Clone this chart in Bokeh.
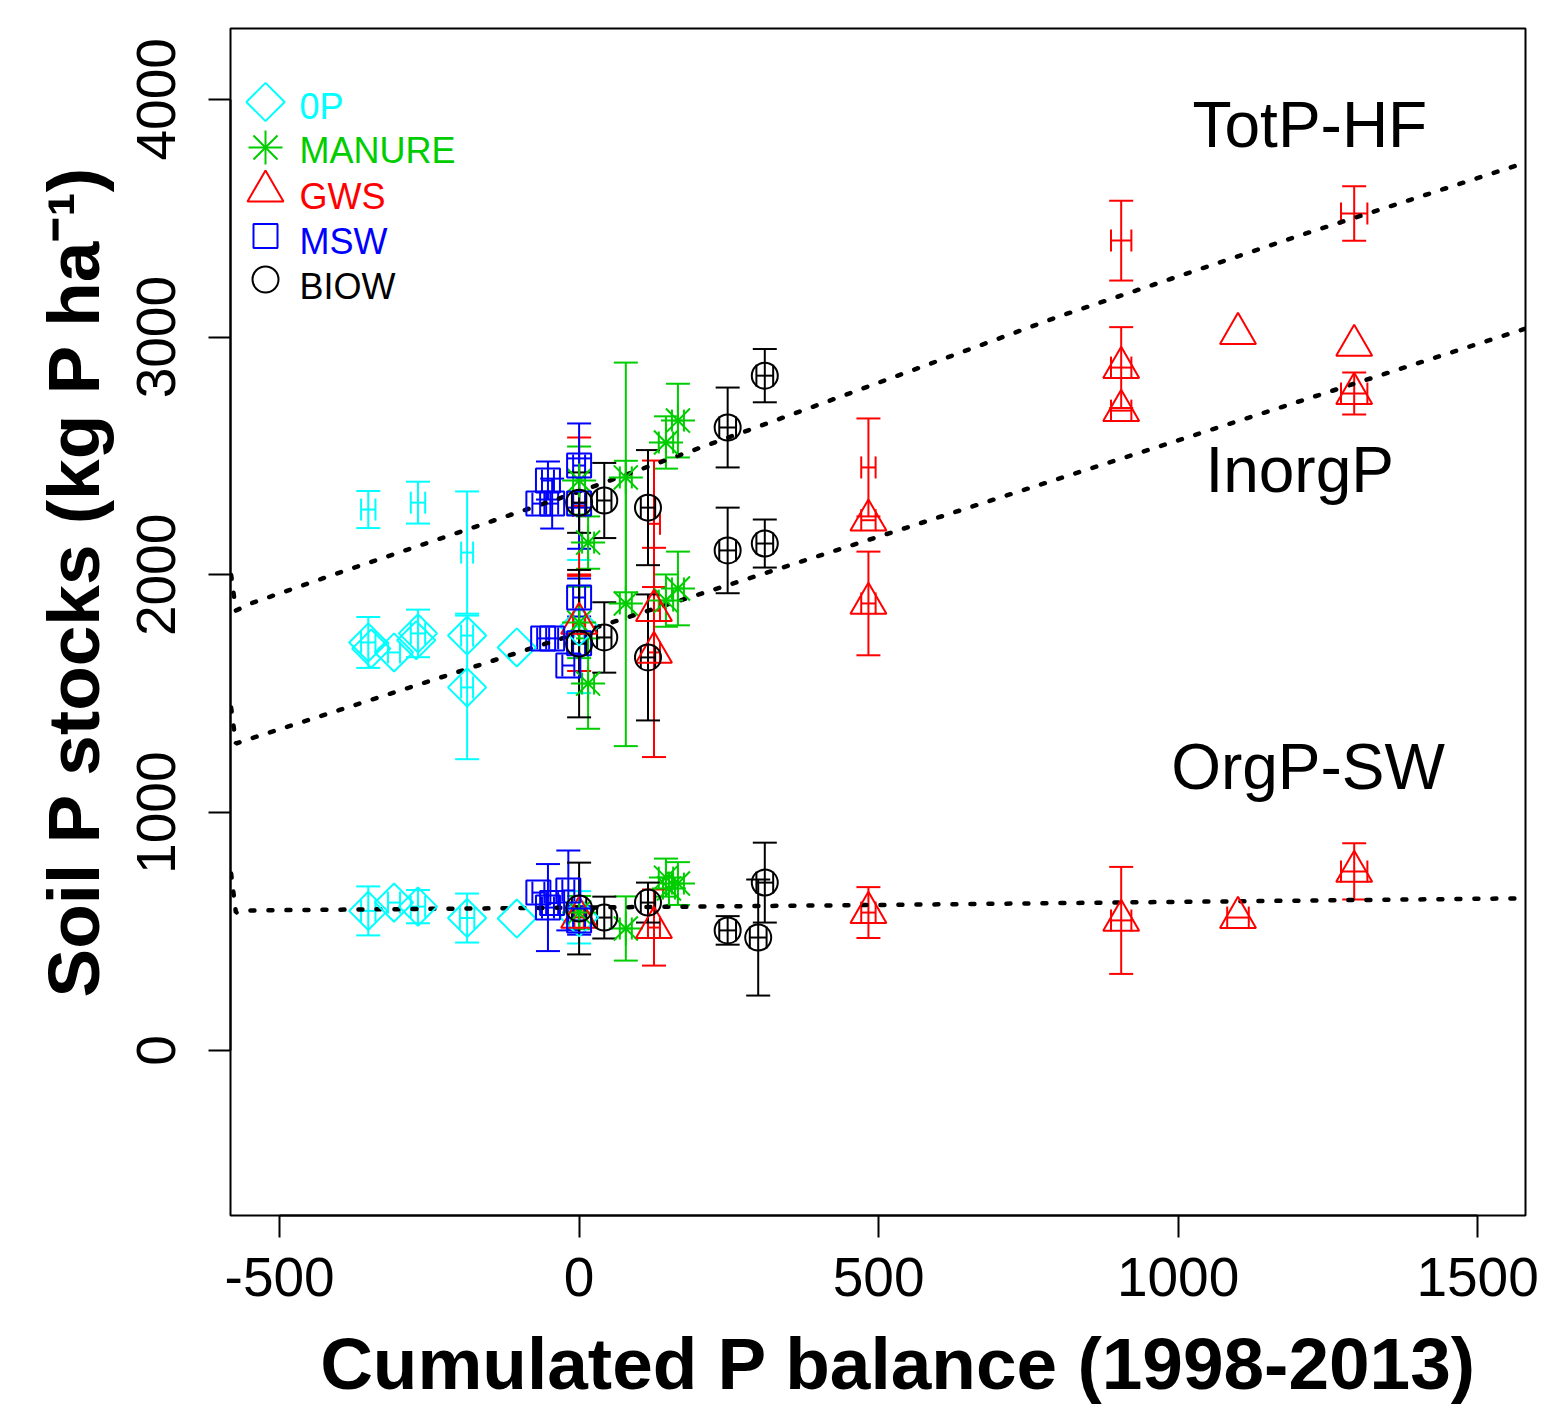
import numpy as np
from bokeh.plotting import figure
from bokeh.models import (ColumnDataSource, Whisker, TeeHead, Range1d, FixedTicker, Label)
from bokeh.embed import file_html
from bokeh.resources import INLINE
from bokeh.core.properties import value

# ---------------- data ----------------
# each treatment: x (cumulated P balance), y (soil P stock), x-error, y-error, marker drawn (1/0)
op_x  = [-352, -269, -187,  -352, -347, -309, -269, -272, -187, -187, -104,    0,  -352, -309, -269, -187, -104,    0]
op_y  = [2275, 2304, 2094,  1716, 1690, 1674, 1754, 1725, 1745, 1527, 1695, 1783,   587,  622,  605,  557,  555,  560]
op_xe = [  12,   12,   10,    12,    0,   10,   12,    0,   10,   10,    0,    8,    12,   10,   12,   12,    0,    8]
op_ye = [  78,   88,  257,   107,    0,    0,  100,    0,    0,  302,    0,  280,   103,    0,   70,  103,    0,  110]
op_mk = [   0,    0,    0,     1,    1,    1,    1,    1,    1,    1,    1,    1,     1,    1,    1,    1,    1,    1]

mn_x  = [   0,   15,   78,  145,  165,     0,   15,   78,  145,  165,     0,   78,  145,  150,  165]
mn_y  = [2397, 2136, 2410, 2557, 2649,  1800, 1543, 1880, 1892, 1943,   580,  513,  727,  681,  702]
mn_xe = [  10,   10,   10,   12,   10,    10,   10,   10,   12,   10,    10,   10,   12,   10,   10]
mn_ye = [ 143,  110,  483,  110,  155,   150,  190,  600,  110,  155,    70,  135,   80,    0,   90]
mn_mk = [   1,    1,    1,    1,    1,     1,    1,    1,    1,    1,     1,    1,    1,    1,    1]

gw_x  = [   0,  125,  483,  905, 1294,     0,  125,  125,  483,  483,  905,  905, 1100, 1294, 1294,     0,  125,  483,  905, 1100, 1294]
gw_y  = [2290, 2215, 2452, 3406, 3520,  1796, 1850, 1674, 2230, 1880, 2872, 2691, 3015, 2965, 2763,   560,  517,  580,  547,  559,  753]
gw_xe = [  10,   10,   12,   17,   22,    10,   10,   10,   12,   12,   17,   17,    0,    0,   22,     8,   10,   12,   17,   18,   22]
gw_ye = [ 288,  266,  206,  168,  115,   200,    0,  440,    0,  218,  170,    0,    0,    0,   88,     0,  160,  107,  225,    0,  118]
gw_mk = [   0,    0,    0,    0,    0,     1,    1,    1,    1,    1,    1,    1,    1,    1,    1,     1,    1,    1,    1,    1,    1]

ms_x  = [ -68,  -52,  -45,    0,    0,   -60,  -45,  -18,    0,    0,   -68,  -52,  -45,  -18,    0]
ms_y  = [2300, 2397, 2300, 2460, 2300,  1733, 1733, 1619, 1713, 1905,   664,  601,  620,  673,  547]
ms_xe = [  10,   10,   10,   10,   10,    10,   10,   10,   10,   10,    10,   10,   10,   10,   10]
ms_ye = [   0,   80,  105,  177,  190,     0,    0,    0,    0,   80,     0,  183,    0,  168,   60]
ms_mk = [   1,    1,    1,    1,    1,     1,    1,    1,    1,    1,     1,    1,    1,    1,    1]

bw_x  = [   0,   42,  115,  248,  310,     0,   42,  115,  248,  310,     0,   42,  115,  248,  299,  310]
bw_y  = [2304, 2313, 2283, 2620, 2838,  1711, 1737, 1653, 2103, 2132,   597,  559,  622,  505,  475,  706]
bw_xe = [  12,   12,   12,   14,   14,    12,   12,   12,   14,   14,    12,   12,   12,   14,   14,   14]
bw_ye = [ 127,  158,  242,  168,  112,   310,  148,  265,  180,  101,   193,   88,   84,   60,  244,  168]
bw_mk = [   1,    1,    1,    1,    1,     1,    1,    1,    1,    1,     1,    1,    1,    1,    1,    1]

# fitted curves
totp_fit_x = [-581, -573, -548, -400,    0,  400,  800, 1200, 1580]
totp_fit_y = [2000, 1850, 1880, 2010, 2350, 2716, 3086, 3425, 3734]
inorg_fit_x = [-581, -573, -548, -400,    0,  400,  800, 1200, 1580]
inorg_fit_y = [1442, 1291, 1312, 1432, 1756, 2080, 2404, 2728, 3036]
org_fit_x = [-581, -573, -548,  500, 1580]
org_fit_y = [ 744,  580,  589,  612,  640]

curve_labels = ["TotP-HF", "InorgP", "OrgP-SW"]
curve_label_x = [1220, 1203, 1217]
curve_label_y = [3893, 2442, 1193]

treat_names = ["0P", "MANURE", "GWS", "MSW", "BIOW"]
treat_colors = ["#00FFFF", "#00CD00", "#FF0000", "#0000FF", "#000000"]

x_ticks = [-500, 0, 500, 1000, 1500]
y_ticks = [0, 1000, 2000, 3000, 4000]

NB = "\u00a0"
x_title = NB * 2 + "Cumulated P balance (1998-2013)"
y_title = NB * 4 + "Soil P stocks (kg P ha\u207b\u00b9)"

# ---------------- figure ----------------
FONT = "Liberation Sans"
p = figure(frame_width=1295, frame_height=1187,
           x_range=Range1d(-582, 1580), y_range=Range1d(-694, 4298),
           output_backend="svg", toolbar_location=None,
           min_border_left=230, min_border_right=23, min_border_top=28, min_border_bottom=188)
p.extra_x_ranges = {"sx": Range1d(0, 1295)}
p.extra_y_ranges = {"sy": Range1d(0, 1187)}
p.grid.visible = False
p.outline_line_color = "black"
p.outline_line_width = 2
p.background_fill_color = "white"
p.border_fill_color = "white"

for ax in (p.xaxis[0], p.yaxis[0]):
    ax.axis_line_color = "black"
    ax.axis_line_width = 2
    ax.major_tick_line_width = 2
    ax.major_tick_out = 22
    ax.major_tick_in = 0
    ax.minor_tick_out = 0
    ax.minor_tick_in = 0
    ax.major_label_text_font = FONT
    ax.major_label_text_font_size = "55px"
    ax.major_label_text_color = "black"
    ax.axis_label_text_font = FONT
    ax.axis_label_text_font_size = "73px"
    ax.axis_label_text_font_style = "bold"
    ax.axis_label_text_color = "black"

p.xaxis.ticker = FixedTicker(ticks=x_ticks)
p.yaxis.ticker = FixedTicker(ticks=y_ticks)
p.xaxis.bounds = (x_ticks[0], x_ticks[-1])
p.yaxis.bounds = (y_ticks[0], y_ticks[-1])
p.xaxis.major_label_overrides = {t: str(t) for t in x_ticks}
p.yaxis.major_label_overrides = {t: str(t) for t in y_ticks}
p.xaxis.major_label_standoff = 20
p.yaxis.major_label_standoff = 33
p.yaxis.major_label_orientation = "vertical"
p.xaxis.axis_label = x_title
p.yaxis.axis_label = y_title
p.xaxis.axis_label_standoff = 24
p.yaxis.axis_label_standoff = 21

# fitted dotted curves
for fx, fy in ((totp_fit_x, totp_fit_y), (inorg_fit_x, inorg_fit_y), (org_fit_x, org_fit_y)):
    p.line(fx, fy, line_color="black", line_width=4.5, line_dash="4 14", line_cap="round")


def draw_marker(xs, ys, name, color, xr="default", yr="default"):
    kw = dict(fill_color=None, line_color=color, line_width=2)
    if xr != "default":
        kw["x_range_name"] = xr
        kw["y_range_name"] = yr
    if name == "0P":
        p.scatter(xs, ys, marker="square", angle=np.pi / 4, size=27, **kw)
    elif name == "MANURE":
        p.scatter(xs, ys, marker="cross", size=34, **kw)
        p.scatter(xs, ys, marker="cross", angle=np.pi / 4, size=34, **kw)
    elif name == "GWS":
        p.scatter(xs, ys, marker="triangle", size=36, **kw)
    elif name == "MSW":
        p.scatter(xs, ys, marker="square", size=24, **kw)
    else:
        p.scatter(xs, ys, marker="circle", size=26, **kw)


series = [(op_x, op_y, op_xe, op_ye, op_mk), (mn_x, mn_y, mn_xe, mn_ye, mn_mk),
          (gw_x, gw_y, gw_xe, gw_ye, gw_mk), (ms_x, ms_y, ms_xe, ms_ye, ms_mk),
          (bw_x, bw_y, bw_xe, bw_ye, bw_mk)]

for (xs, ys, xe, ye, mk), name, color in zip(series, treat_names, treat_colors):
    xs = np.array(xs, float); ys = np.array(ys, float)
    xe = np.array(xe, float); ye = np.array(ye, float); mk = np.array(mk)
    sel = ye > 0
    src_y = ColumnDataSource(dict(x=xs[sel], lo=ys[sel] - ye[sel], hi=ys[sel] + ye[sel]))
    p.add_layout(Whisker(source=src_y, base="x", lower="lo", upper="hi", dimension="height",
                         line_color=color, line_width=2,
                         upper_head=TeeHead(size=24, line_color=color, line_width=2),
                         lower_head=TeeHead(size=24, line_color=color, line_width=2)))
    sel = xe > 0
    src_x = ColumnDataSource(dict(y=ys[sel], lo=xs[sel] - xe[sel], hi=xs[sel] + xe[sel]))
    p.add_layout(Whisker(source=src_x, base="y", lower="lo", upper="hi", dimension="width",
                         line_color=color, line_width=2,
                         upper_head=TeeHead(size=22, line_color=color, line_width=2),
                         lower_head=TeeHead(size=22, line_color=color, line_width=2)))
    sel = mk == 1
    draw_marker(xs[sel], ys[sel], name, color)

# curve labels
for t, lx, ly in zip(curve_labels, curve_label_x, curve_label_y):
    p.add_layout(Label(x=lx, y=ly, text=t, text_align="center", text_baseline="alphabetic",
                       text_font=FONT, text_font_size="64px", text_color="black"))

# legend (positions in frame pixels)
leg_marker_x = 35
leg_marker_y = [1113.5, 1068, 1024.3, 979.5, 936]
leg_text_x = 69
leg_text_y = [1109, 1065, 1019, 974, 929]
for name, color, my, ty in zip(treat_names, treat_colors, leg_marker_y, leg_text_y):
    draw_marker([leg_marker_x], [my], name, color, xr="sx", yr="sy")
    p.text([leg_text_x], [ty], text=[name], x_range_name="sx", y_range_name="sy",
           text_font=value(FONT), text_font_size="36px", text_color=color,
           text_align="left", text_baseline="alphabetic")

open("out.html", "w").write(file_html(p, INLINE))
